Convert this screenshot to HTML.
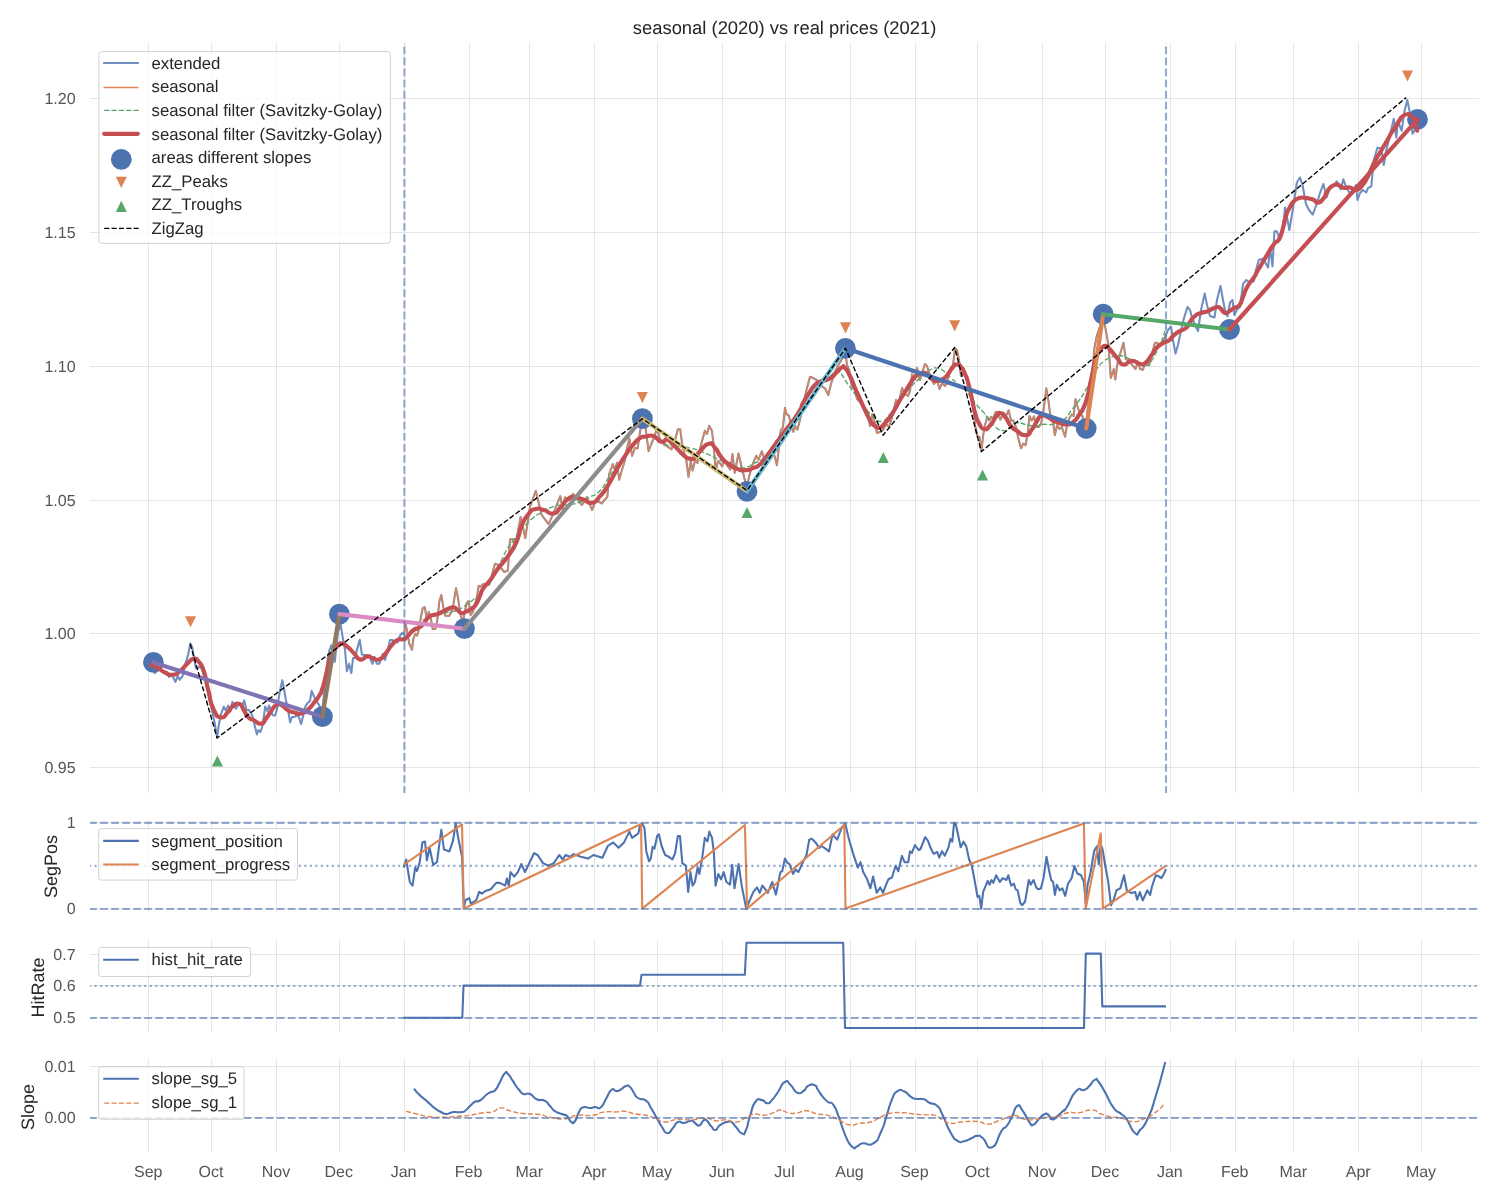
<!DOCTYPE html><html><head><meta charset="utf-8"><style>html,body{margin:0;padding:0;background:#fff;}svg{display:block;will-change:transform;}text{font-family:"Liberation Sans",sans-serif;text-rendering:geometricPrecision;}</style></head><body>
<svg width="1500" height="1200" viewBox="0 0 1500 1200">
<rect width="1500" height="1200" fill="#fff"/>
<defs>
<clipPath id="c_main"><rect x="90" y="43" width="1389" height="750"/></clipPath>
<clipPath id="c_seg"><rect x="90" y="820" width="1389" height="92"/></clipPath>
<clipPath id="c_hit"><rect x="90" y="940" width="1389" height="91"/></clipPath>
<clipPath id="c_slope"><rect x="90" y="1059" width="1389" height="92"/></clipPath>
</defs>
<line x1="148.5" y1="43" x2="148.5" y2="793" stroke="#e5e5e5" stroke-width="1"/>
<line x1="211.5" y1="43" x2="211.5" y2="793" stroke="#e5e5e5" stroke-width="1"/>
<line x1="276.5" y1="43" x2="276.5" y2="793" stroke="#e5e5e5" stroke-width="1"/>
<line x1="339.5" y1="43" x2="339.5" y2="793" stroke="#e5e5e5" stroke-width="1"/>
<line x1="404.5" y1="43" x2="404.5" y2="793" stroke="#e5e5e5" stroke-width="1"/>
<line x1="469.5" y1="43" x2="469.5" y2="793" stroke="#e5e5e5" stroke-width="1"/>
<line x1="529.5" y1="43" x2="529.5" y2="793" stroke="#e5e5e5" stroke-width="1"/>
<line x1="594.5" y1="43" x2="594.5" y2="793" stroke="#e5e5e5" stroke-width="1"/>
<line x1="657.5" y1="43" x2="657.5" y2="793" stroke="#e5e5e5" stroke-width="1"/>
<line x1="722.5" y1="43" x2="722.5" y2="793" stroke="#e5e5e5" stroke-width="1"/>
<line x1="785.5" y1="43" x2="785.5" y2="793" stroke="#e5e5e5" stroke-width="1"/>
<line x1="850.5" y1="43" x2="850.5" y2="793" stroke="#e5e5e5" stroke-width="1"/>
<line x1="915.5" y1="43" x2="915.5" y2="793" stroke="#e5e5e5" stroke-width="1"/>
<line x1="977.5" y1="43" x2="977.5" y2="793" stroke="#e5e5e5" stroke-width="1"/>
<line x1="1042.5" y1="43" x2="1042.5" y2="793" stroke="#e5e5e5" stroke-width="1"/>
<line x1="1105.5" y1="43" x2="1105.5" y2="793" stroke="#e5e5e5" stroke-width="1"/>
<line x1="1170.5" y1="43" x2="1170.5" y2="793" stroke="#e5e5e5" stroke-width="1"/>
<line x1="1235.5" y1="43" x2="1235.5" y2="793" stroke="#e5e5e5" stroke-width="1"/>
<line x1="1293.5" y1="43" x2="1293.5" y2="793" stroke="#e5e5e5" stroke-width="1"/>
<line x1="1358.5" y1="43" x2="1358.5" y2="793" stroke="#e5e5e5" stroke-width="1"/>
<line x1="1421.5" y1="43" x2="1421.5" y2="793" stroke="#e5e5e5" stroke-width="1"/>
<line x1="148.5" y1="820" x2="148.5" y2="912" stroke="#e5e5e5" stroke-width="1"/>
<line x1="211.5" y1="820" x2="211.5" y2="912" stroke="#e5e5e5" stroke-width="1"/>
<line x1="276.5" y1="820" x2="276.5" y2="912" stroke="#e5e5e5" stroke-width="1"/>
<line x1="339.5" y1="820" x2="339.5" y2="912" stroke="#e5e5e5" stroke-width="1"/>
<line x1="404.5" y1="820" x2="404.5" y2="912" stroke="#e5e5e5" stroke-width="1"/>
<line x1="469.5" y1="820" x2="469.5" y2="912" stroke="#e5e5e5" stroke-width="1"/>
<line x1="529.5" y1="820" x2="529.5" y2="912" stroke="#e5e5e5" stroke-width="1"/>
<line x1="594.5" y1="820" x2="594.5" y2="912" stroke="#e5e5e5" stroke-width="1"/>
<line x1="657.5" y1="820" x2="657.5" y2="912" stroke="#e5e5e5" stroke-width="1"/>
<line x1="722.5" y1="820" x2="722.5" y2="912" stroke="#e5e5e5" stroke-width="1"/>
<line x1="785.5" y1="820" x2="785.5" y2="912" stroke="#e5e5e5" stroke-width="1"/>
<line x1="850.5" y1="820" x2="850.5" y2="912" stroke="#e5e5e5" stroke-width="1"/>
<line x1="915.5" y1="820" x2="915.5" y2="912" stroke="#e5e5e5" stroke-width="1"/>
<line x1="977.5" y1="820" x2="977.5" y2="912" stroke="#e5e5e5" stroke-width="1"/>
<line x1="1042.5" y1="820" x2="1042.5" y2="912" stroke="#e5e5e5" stroke-width="1"/>
<line x1="1105.5" y1="820" x2="1105.5" y2="912" stroke="#e5e5e5" stroke-width="1"/>
<line x1="1170.5" y1="820" x2="1170.5" y2="912" stroke="#e5e5e5" stroke-width="1"/>
<line x1="1235.5" y1="820" x2="1235.5" y2="912" stroke="#e5e5e5" stroke-width="1"/>
<line x1="1293.5" y1="820" x2="1293.5" y2="912" stroke="#e5e5e5" stroke-width="1"/>
<line x1="1358.5" y1="820" x2="1358.5" y2="912" stroke="#e5e5e5" stroke-width="1"/>
<line x1="1421.5" y1="820" x2="1421.5" y2="912" stroke="#e5e5e5" stroke-width="1"/>
<line x1="148.5" y1="940" x2="148.5" y2="1031" stroke="#e5e5e5" stroke-width="1"/>
<line x1="211.5" y1="940" x2="211.5" y2="1031" stroke="#e5e5e5" stroke-width="1"/>
<line x1="276.5" y1="940" x2="276.5" y2="1031" stroke="#e5e5e5" stroke-width="1"/>
<line x1="339.5" y1="940" x2="339.5" y2="1031" stroke="#e5e5e5" stroke-width="1"/>
<line x1="404.5" y1="940" x2="404.5" y2="1031" stroke="#e5e5e5" stroke-width="1"/>
<line x1="469.5" y1="940" x2="469.5" y2="1031" stroke="#e5e5e5" stroke-width="1"/>
<line x1="529.5" y1="940" x2="529.5" y2="1031" stroke="#e5e5e5" stroke-width="1"/>
<line x1="594.5" y1="940" x2="594.5" y2="1031" stroke="#e5e5e5" stroke-width="1"/>
<line x1="657.5" y1="940" x2="657.5" y2="1031" stroke="#e5e5e5" stroke-width="1"/>
<line x1="722.5" y1="940" x2="722.5" y2="1031" stroke="#e5e5e5" stroke-width="1"/>
<line x1="785.5" y1="940" x2="785.5" y2="1031" stroke="#e5e5e5" stroke-width="1"/>
<line x1="850.5" y1="940" x2="850.5" y2="1031" stroke="#e5e5e5" stroke-width="1"/>
<line x1="915.5" y1="940" x2="915.5" y2="1031" stroke="#e5e5e5" stroke-width="1"/>
<line x1="977.5" y1="940" x2="977.5" y2="1031" stroke="#e5e5e5" stroke-width="1"/>
<line x1="1042.5" y1="940" x2="1042.5" y2="1031" stroke="#e5e5e5" stroke-width="1"/>
<line x1="1105.5" y1="940" x2="1105.5" y2="1031" stroke="#e5e5e5" stroke-width="1"/>
<line x1="1170.5" y1="940" x2="1170.5" y2="1031" stroke="#e5e5e5" stroke-width="1"/>
<line x1="1235.5" y1="940" x2="1235.5" y2="1031" stroke="#e5e5e5" stroke-width="1"/>
<line x1="1293.5" y1="940" x2="1293.5" y2="1031" stroke="#e5e5e5" stroke-width="1"/>
<line x1="1358.5" y1="940" x2="1358.5" y2="1031" stroke="#e5e5e5" stroke-width="1"/>
<line x1="1421.5" y1="940" x2="1421.5" y2="1031" stroke="#e5e5e5" stroke-width="1"/>
<line x1="148.5" y1="1059" x2="148.5" y2="1151" stroke="#e5e5e5" stroke-width="1"/>
<line x1="211.5" y1="1059" x2="211.5" y2="1151" stroke="#e5e5e5" stroke-width="1"/>
<line x1="276.5" y1="1059" x2="276.5" y2="1151" stroke="#e5e5e5" stroke-width="1"/>
<line x1="339.5" y1="1059" x2="339.5" y2="1151" stroke="#e5e5e5" stroke-width="1"/>
<line x1="404.5" y1="1059" x2="404.5" y2="1151" stroke="#e5e5e5" stroke-width="1"/>
<line x1="469.5" y1="1059" x2="469.5" y2="1151" stroke="#e5e5e5" stroke-width="1"/>
<line x1="529.5" y1="1059" x2="529.5" y2="1151" stroke="#e5e5e5" stroke-width="1"/>
<line x1="594.5" y1="1059" x2="594.5" y2="1151" stroke="#e5e5e5" stroke-width="1"/>
<line x1="657.5" y1="1059" x2="657.5" y2="1151" stroke="#e5e5e5" stroke-width="1"/>
<line x1="722.5" y1="1059" x2="722.5" y2="1151" stroke="#e5e5e5" stroke-width="1"/>
<line x1="785.5" y1="1059" x2="785.5" y2="1151" stroke="#e5e5e5" stroke-width="1"/>
<line x1="850.5" y1="1059" x2="850.5" y2="1151" stroke="#e5e5e5" stroke-width="1"/>
<line x1="915.5" y1="1059" x2="915.5" y2="1151" stroke="#e5e5e5" stroke-width="1"/>
<line x1="977.5" y1="1059" x2="977.5" y2="1151" stroke="#e5e5e5" stroke-width="1"/>
<line x1="1042.5" y1="1059" x2="1042.5" y2="1151" stroke="#e5e5e5" stroke-width="1"/>
<line x1="1105.5" y1="1059" x2="1105.5" y2="1151" stroke="#e5e5e5" stroke-width="1"/>
<line x1="1170.5" y1="1059" x2="1170.5" y2="1151" stroke="#e5e5e5" stroke-width="1"/>
<line x1="1235.5" y1="1059" x2="1235.5" y2="1151" stroke="#e5e5e5" stroke-width="1"/>
<line x1="1293.5" y1="1059" x2="1293.5" y2="1151" stroke="#e5e5e5" stroke-width="1"/>
<line x1="1358.5" y1="1059" x2="1358.5" y2="1151" stroke="#e5e5e5" stroke-width="1"/>
<line x1="1421.5" y1="1059" x2="1421.5" y2="1151" stroke="#e5e5e5" stroke-width="1"/>
<line x1="90" y1="767.5" x2="1479" y2="767.5" stroke="#e5e5e5" stroke-width="1"/>
<line x1="90" y1="633.5" x2="1479" y2="633.5" stroke="#e5e5e5" stroke-width="1"/>
<line x1="90" y1="500.5" x2="1479" y2="500.5" stroke="#e5e5e5" stroke-width="1"/>
<line x1="90" y1="366.5" x2="1479" y2="366.5" stroke="#e5e5e5" stroke-width="1"/>
<line x1="90" y1="232.5" x2="1479" y2="232.5" stroke="#e5e5e5" stroke-width="1"/>
<line x1="90" y1="98.5" x2="1479" y2="98.5" stroke="#e5e5e5" stroke-width="1"/>
<line x1="90" y1="908.5" x2="1479" y2="908.5" stroke="#e5e5e5" stroke-width="1"/>
<line x1="90" y1="822.5" x2="1479" y2="822.5" stroke="#e5e5e5" stroke-width="1"/>
<line x1="90" y1="1017.5" x2="1479" y2="1017.5" stroke="#e5e5e5" stroke-width="1"/>
<line x1="90" y1="985.5" x2="1479" y2="985.5" stroke="#e5e5e5" stroke-width="1"/>
<line x1="90" y1="954.5" x2="1479" y2="954.5" stroke="#e5e5e5" stroke-width="1"/>
<line x1="90" y1="1117.5" x2="1479" y2="1117.5" stroke="#e5e5e5" stroke-width="1"/>
<line x1="90" y1="1066.5" x2="1479" y2="1066.5" stroke="#e5e5e5" stroke-width="1"/>
<g clip-path="url(#c_main)" fill="none" stroke-linejoin="round">
<polyline points="150.0,664.0 152.5,668.0 154.8,673.1 157.0,671.0 160.0,668.0 163.0,672.0 166.3,672.2 169.2,677.0 172.0,675.0 175.4,681.8 177.8,676.0 179.7,679.8 182.6,676.0 184.5,666.4 186.4,660.7 188.3,654.0 190.3,643.4 192.2,647.3 194.0,658.0 196.0,668.3 198.0,668.0 199.8,666.4 202.2,669.3 204.6,677.9 207.5,689.4 210.4,702.8 213.3,716.3 215.2,725.8 217.1,737.4 219.0,723.9 220.9,714.3 223.8,706.7 225.7,710.5 228.1,705.7 230.5,710.5 232.4,701.9 234.3,705.7 236.0,708.6 238.0,705.0 240.0,703.0 242.0,706.0 244.2,700.4 246.4,710.0 249.0,710.0 252.5,716.1 254.3,724.0 256.9,734.5 258.5,730.0 260.4,731.9 262.1,727.5 263.9,716.1 265.2,706.5 267.3,711.0 269.1,705.6 270.9,710.0 272.6,715.3 275.0,715.5 277.0,709.1 279.6,692.5 282.3,680.3 284.0,689.0 285.8,699.5 288.4,711.8 290.1,722.3 292.0,717.0 294.5,717.0 296.3,715.3 298.9,717.0 301.1,724.0 303.3,715.3 305.0,707.4 307.6,703.0 310.0,701.0 311.6,690.8 313.8,696.0 316.4,701.0 319.0,704.8 322.0,712.0 324.5,690.0 326.0,675.0 327.8,657.5 329.5,650.0 331.3,645.3 333.0,652.0 334.8,661.9 336.5,645.3 338.0,632.0 340.6,623.8 342.5,636.3 345.0,650.0 346.9,671.3 349.1,663.8 351.3,673.1 353.1,658.1 355.0,658.0 356.9,650.0 359.7,639.7 361.9,654.4 364.4,655.0 367.5,655.0 370.0,658.0 372.5,663.8 374.4,656.9 376.9,663.8 379.4,663.8 381.3,657.5 383.1,653.8 385.0,660.0 387.5,651.9 390.0,640.0 392.5,640.0 395.0,642.5 397.5,642.5 400.0,635.6 401.9,633.1 404.0,634.4" stroke="#4C72B0" stroke-opacity="0.8" stroke-width="2.08" stroke-linecap="square"/>
<polyline points="1165.7,335.5 1168.0,330.0 1171.0,326.5 1173.0,340.0 1175.5,353.5 1178.0,345.0 1180.0,335.5 1184.0,318.0 1187.5,307.0 1190.0,310.0 1192.0,317.5 1195.0,325.0 1198.0,331.0 1201.0,310.0 1204.7,293.5 1207.0,305.0 1210.0,316.0 1214.5,317.5 1217.0,300.0 1220.5,286.0 1223.0,300.0 1225.0,310.0 1227.5,316.3 1230.0,302.5 1232.5,300.0 1234.4,315.0 1237.5,308.8 1240.0,307.0 1243.1,283.8 1246.3,280.0 1250.0,282.5 1253.8,281.3 1256.0,270.0 1258.8,260.0 1262.5,258.8 1265.0,262.0 1268.1,267.5 1270.0,247.5 1272.5,266.3 1274.4,231.3 1276.9,231.3 1280.0,240.0 1283.8,220.0 1285.0,207.5 1287.5,220.0 1289.4,230.0 1292.5,211.3 1296.9,182.5 1300.0,177.5 1302.5,185.0 1306.0,204.0 1309.0,210.0 1312.7,214.7 1316.7,204.0 1320.0,193.0 1323.3,184.0 1326.7,197.3 1329.0,190.0 1331.3,186.7 1334.0,185.0 1336.7,181.3 1340.7,189.3 1343.3,179.3 1346.0,186.7 1349.0,192.0 1352.5,193.8 1356.0,185.0 1357.5,200.0 1360.0,193.0 1363.0,190.0 1366.3,192.5 1368.0,188.0 1371.3,186.3 1373.8,160.0 1377.5,147.5 1381.3,148.8 1383.8,165.0 1386.3,150.0 1390.0,135.0 1393.8,118.8 1396.3,137.5 1398.0,121.7 1401.7,130.7 1404.3,111.7 1407.3,100.0 1409.7,111.7 1410.7,123.3 1412.7,133.7 1414.3,131.0 1417.5,119.5" stroke="#4C72B0" stroke-opacity="0.8" stroke-width="2.08" stroke-linecap="square"/>
<polyline points="404.0,633.0 405.7,624.3 407.3,632.3 409.3,643.7 412.0,649.7 413.3,639.0 415.3,633.7 417.0,635.7 418.7,630.3 420.7,618.3 422.7,608.3 424.7,607.0 426.7,618.3 428.7,611.7 430.7,617.7 432.7,629.0 435.3,629.0 437.3,620.3 439.3,601.7 441.3,595.0 443.3,607.0 445.3,615.7 449.3,615.7 451.3,611.7 453.3,605.0 456.0,588.3 458.0,597.7 460.0,612.3 462.7,623.0 464.7,612.3 466.7,603.0 468.7,601.0 470.7,615.0 472.7,612.3 474.7,606.3 477.3,595.0 478.7,585.7 480.0,587.0 483.3,584.0 489.2,584.8 495.0,563.8 498.5,565.0 504.3,572.0 507.8,570.8 510.1,539.3 513.6,539.3 514.8,548.6 520.6,517.1 525.3,538.1 530.0,506.6 535.8,490.9 541.6,514.8 548.6,524.1 553.3,513.6 560.3,496.2 562.6,509.0 565.0,497.3 569.0,500.0 573.1,493.8 577.0,499.0 582.0,505.0 587.0,497.0 592.0,510.0 596.0,500.0 601.8,503.5 604.5,500.0 607.3,497.1 609.2,474.2 612.8,464.1 614.8,470.0 617.0,462.7 619.2,479.7 621.9,470.0 624.7,461.3 626.6,450.3 629.3,438.4 632.1,455.8 634.8,448.0 637.6,448.5 640.3,430.2 642.2,423.7 644.9,422.8 648.6,451.2 651.3,444.0 654.1,437.5 656.8,428.3 659.6,438.4 664.2,444.8 667.8,446.7 671.5,449.4 674.2,443.0 677.9,429.2 680.2,429.2 682.5,446.7 686.2,459.5 688.5,476.9 690.7,461.3 692.6,470.5 695.3,459.5 697.5,463.0 700.0,449.1 702.2,440.4 704.9,430.7 707.0,433.9 709.2,425.8 711.9,430.7 713.5,443.7 715.7,470.8 717.9,461.0 720.0,463.2 722.2,466.4 724.4,459.9 727.1,465.3 730.3,469.7 732.5,454.0 734.7,472.9 738.5,453.4 741.2,465.3 743.9,476.2 746.6,487.0 749.8,474.0 753.1,463.2 756.3,455.6 758.5,459.9 761.8,451.3 763.9,457.8 767.2,462.1 771.5,448.0 774.8,456.7 776.9,465.3 779.1,445.8 780.7,430.7 782.9,427.4 785.0,407.9 786.7,414.4 788.8,415.5 791.0,424.2 793.2,431.8 795.3,426.3 797.5,429.6 800.0,419.8 803.3,403.3 807.0,388.0 810.0,376.7 813.0,378.0 816.7,380.0 820.0,385.0 825.0,388.3 828.3,395.0 831.0,384.0 835.0,371.7 839.0,364.0 843.3,356.7 845.0,350.0 847.0,365.0 849.0,370.0 852.0,387.0 854.5,389.0 857.0,399.0 860.0,402.0 865.0,410.0 868.0,417.0 870.0,426.0 872.5,414.0 875.0,423.0 877.0,433.0 880.0,432.0 883.0,430.0 886.0,424.0 889.0,427.0 893.0,414.0 896.0,400.0 899.0,402.0 902.0,388.0 905.0,394.0 908.0,396.0 910.0,391.0 912.0,374.0 915.0,379.0 917.0,368.0 920.0,380.0 923.0,370.0 925.0,364.0 927.0,366.0 929.0,373.0 931.0,378.0 934.0,384.0 937.0,380.0 939.5,389.0 942.0,383.0 945.0,386.0 947.0,383.0 950.0,370.0 953.0,365.0 955.0,349.0 957.0,350.0 959.0,360.0 961.0,376.0 964.0,373.0 967.0,378.0 969.0,388.0 972.0,400.0 974.0,412.0 975.0,425.2 977.3,436.0 979.5,437.0 981.5,449.8 983.4,433.6 985.0,425.2 987.3,416.8 989.2,420.6 991.1,416.8 993.0,419.0 995.7,411.8 998.0,412.2 1000.3,419.8 1002.0,416.0 1005.0,418.0 1008.7,410.3 1011.0,420.6 1013.3,420.6 1016.4,428.3 1017.9,436.7 1021.0,448.2 1023.3,443.6 1025.6,445.2 1027.9,432.1 1029.4,416.0 1031.7,420.6 1034.0,416.4 1036.4,426.7 1038.6,427.1 1041.0,424.0 1043.2,412.9 1046.3,388.4 1048.6,402.2 1050.2,414.5 1052.5,417.5 1054.8,435.2 1057.1,425.2 1059.4,429.0 1061.7,427.0 1065.1,436.7 1067.0,425.2 1069.3,418.3 1071.6,414.5 1073.5,416.0 1075.5,399.1 1077.8,407.6 1080.1,413.7 1082.4,416.0 1084.7,428.3 1086.2,428.3 1087.7,408.3 1090.0,395.0 1094.5,347.5 1097.0,335.0 1100.5,325.0 1103.5,316.0 1104.8,324.8 1108.5,345.0 1110.8,378.0 1113.8,369.0 1115.3,379.5 1117.5,363.0 1120.5,352.5 1123.5,342.8 1125.8,359.3 1128.5,360.0 1131.8,364.5 1135.5,369.0 1137.8,361.5 1140.0,369.0 1143.0,369.8 1145.3,362.3 1147.2,361.0 1149.0,365.3 1151.3,356.0 1155.0,342.8 1157.3,342.8 1159.5,346.5 1162.0,344.0 1165.7,335.5" stroke="#4C72B0" stroke-opacity="0.8" stroke-width="2.08"/>
<polyline points="404.0,633.0 405.7,624.3 407.3,632.3 409.3,643.7 412.0,649.7 413.3,639.0 415.3,633.7 417.0,635.7 418.7,630.3 420.7,618.3 422.7,608.3 424.7,607.0 426.7,618.3 428.7,611.7 430.7,617.7 432.7,629.0 435.3,629.0 437.3,620.3 439.3,601.7 441.3,595.0 443.3,607.0 445.3,615.7 449.3,615.7 451.3,611.7 453.3,605.0 456.0,588.3 458.0,597.7 460.0,612.3 462.7,623.0 464.7,612.3 466.7,603.0 468.7,601.0 470.7,615.0 472.7,612.3 474.7,606.3 477.3,595.0 478.7,585.7 480.0,587.0 483.3,584.0 489.2,584.8 495.0,563.8 498.5,565.0 504.3,572.0 507.8,570.8 510.1,539.3 513.6,539.3 514.8,548.6 520.6,517.1 525.3,538.1 530.0,506.6 535.8,490.9 541.6,514.8 548.6,524.1 553.3,513.6 560.3,496.2 562.6,509.0 565.0,497.3 569.0,500.0 573.1,493.8 577.0,499.0 582.0,505.0 587.0,497.0 592.0,510.0 596.0,500.0 601.8,503.5 604.5,500.0 607.3,497.1 609.2,474.2 612.8,464.1 614.8,470.0 617.0,462.7 619.2,479.7 621.9,470.0 624.7,461.3 626.6,450.3 629.3,438.4 632.1,455.8 634.8,448.0 637.6,448.5 640.3,430.2 642.2,423.7 644.9,422.8 648.6,451.2 651.3,444.0 654.1,437.5 656.8,428.3 659.6,438.4 664.2,444.8 667.8,446.7 671.5,449.4 674.2,443.0 677.9,429.2 680.2,429.2 682.5,446.7 686.2,459.5 688.5,476.9 690.7,461.3 692.6,470.5 695.3,459.5 697.5,463.0 700.0,449.1 702.2,440.4 704.9,430.7 707.0,433.9 709.2,425.8 711.9,430.7 713.5,443.7 715.7,470.8 717.9,461.0 720.0,463.2 722.2,466.4 724.4,459.9 727.1,465.3 730.3,469.7 732.5,454.0 734.7,472.9 738.5,453.4 741.2,465.3 743.9,476.2 746.6,487.0 749.8,474.0 753.1,463.2 756.3,455.6 758.5,459.9 761.8,451.3 763.9,457.8 767.2,462.1 771.5,448.0 774.8,456.7 776.9,465.3 779.1,445.8 780.7,430.7 782.9,427.4 785.0,407.9 786.7,414.4 788.8,415.5 791.0,424.2 793.2,431.8 795.3,426.3 797.5,429.6 800.0,419.8 803.3,403.3 807.0,388.0 810.0,376.7 813.0,378.0 816.7,380.0 820.0,385.0 825.0,388.3 828.3,395.0 831.0,384.0 835.0,371.7 839.0,364.0 843.3,356.7 845.0,350.0 847.0,365.0 849.0,370.0 852.0,387.0 854.5,389.0 857.0,399.0 860.0,402.0 865.0,410.0 868.0,417.0 870.0,426.0 872.5,414.0 875.0,423.0 877.0,433.0 880.0,432.0 883.0,430.0 886.0,424.0 889.0,427.0 893.0,414.0 896.0,400.0 899.0,402.0 902.0,388.0 905.0,394.0 908.0,396.0 910.0,391.0 912.0,374.0 915.0,379.0 917.0,368.0 920.0,380.0 923.0,370.0 925.0,364.0 927.0,366.0 929.0,373.0 931.0,378.0 934.0,384.0 937.0,380.0 939.5,389.0 942.0,383.0 945.0,386.0 947.0,383.0 950.0,370.0 953.0,365.0 955.0,349.0 957.0,350.0 959.0,360.0 961.0,376.0 964.0,373.0 967.0,378.0 969.0,388.0 972.0,400.0 974.0,412.0 975.0,425.2 977.3,436.0 979.5,437.0 981.5,449.8 983.4,433.6 985.0,425.2 987.3,416.8 989.2,420.6 991.1,416.8 993.0,419.0 995.7,411.8 998.0,412.2 1000.3,419.8 1002.0,416.0 1005.0,418.0 1008.7,410.3 1011.0,420.6 1013.3,420.6 1016.4,428.3 1017.9,436.7 1021.0,448.2 1023.3,443.6 1025.6,445.2 1027.9,432.1 1029.4,416.0 1031.7,420.6 1034.0,416.4 1036.4,426.7 1038.6,427.1 1041.0,424.0 1043.2,412.9 1046.3,388.4 1048.6,402.2 1050.2,414.5 1052.5,417.5 1054.8,435.2 1057.1,425.2 1059.4,429.0 1061.7,427.0 1065.1,436.7 1067.0,425.2 1069.3,418.3 1071.6,414.5 1073.5,416.0 1075.5,399.1 1077.8,407.6 1080.1,413.7 1082.4,416.0 1084.7,428.3 1086.2,428.3 1087.7,408.3 1090.0,395.0 1094.5,347.5 1097.0,335.0 1100.5,325.0 1103.5,316.0 1104.8,324.8 1108.5,345.0 1110.8,378.0 1113.8,369.0 1115.3,379.5 1117.5,363.0 1120.5,352.5 1123.5,342.8 1125.8,359.3 1128.5,360.0 1131.8,364.5 1135.5,369.0 1137.8,361.5 1140.0,369.0 1143.0,369.8 1145.3,362.3 1147.2,361.0 1149.0,365.3 1151.3,356.0 1155.0,342.8 1157.3,342.8 1159.5,346.5 1162.0,344.0 1165.7,335.5" stroke="#DD8452" stroke-width="1.39"/>
<path d="M404.0,642.7 C406.0,639.8 405.3,640.2 410.0,634.0 C414.7,627.8 413.0,629.0 418.0,624.0 C423.0,619.0 420.3,621.7 425.0,619.0 C429.7,616.3 425.9,617.9 432.0,616.0 C438.1,614.1 436.2,614.9 443.3,613.3 C450.4,611.7 447.7,612.7 453.3,611.3 C458.9,609.9 455.5,611.3 460.0,609.0 C464.5,606.7 462.3,607.4 466.7,604.3 C471.1,601.2 469.5,602.4 473.3,599.7 C477.1,597.0 474.8,599.5 478.0,596.3 C481.2,593.1 479.0,595.4 483.0,590.0 C487.0,584.6 484.1,589.5 490.0,580.0 C495.9,570.5 495.5,571.2 500.8,561.5 C506.1,551.8 502.1,557.6 506.0,551.0 C509.9,544.4 508.5,547.3 512.5,541.6 C516.5,535.9 513.7,539.4 518.0,534.0 C522.3,528.6 520.3,530.6 525.3,525.3 C530.3,520.0 527.6,522.3 533.0,518.0 C538.4,513.7 534.8,516.3 541.6,512.5 C548.4,508.7 546.5,509.1 553.3,506.6 C560.1,504.1 556.8,505.6 562.0,505.0 C567.2,504.4 563.0,505.7 569.0,504.7 C575.0,503.7 573.0,504.6 580.0,502.0 C587.0,499.4 583.3,500.8 590.0,497.0 C596.7,493.2 593.6,497.4 600.0,490.7 C606.4,484.0 603.2,485.5 609.2,476.9 C615.2,468.3 611.7,473.3 618.0,465.0 C624.3,456.7 621.2,460.3 628.0,452.0 C634.8,443.7 632.5,445.2 638.5,440.2 C644.5,435.2 641.2,438.1 646.0,437.0 C650.8,435.9 648.5,436.2 653.0,437.0 C657.5,437.8 655.0,436.7 659.6,439.3 C664.2,441.9 662.6,442.7 666.9,444.8 C671.2,446.9 668.0,445.1 672.4,445.7 C676.8,446.3 673.6,445.6 680.0,446.5 C686.4,447.4 685.0,447.0 691.7,448.5 C698.4,450.0 693.6,448.6 700.0,451.0 C706.4,453.4 704.3,452.6 710.8,455.6 C717.3,458.6 713.0,457.0 719.5,459.9 C726.0,462.8 723.4,461.8 730.3,464.3 C737.2,466.8 734.5,466.6 740.1,467.5 C745.7,468.4 742.3,468.4 747.0,467.0 C751.7,465.6 748.9,465.9 754.2,463.2 C759.5,460.5 756.9,464.2 762.8,458.8 C768.7,453.4 766.3,454.9 772.0,447.0 C777.7,439.1 774.4,442.6 780.0,435.0 C785.6,427.4 782.1,432.5 788.8,424.2 C795.5,415.9 792.9,420.4 800.0,410.0 C807.1,399.6 803.3,402.0 810.0,393.0 C816.7,384.0 814.0,388.0 820.0,383.0 C826.0,378.0 822.4,381.8 828.0,378.0 C833.6,374.2 832.0,372.7 836.7,371.7 C841.4,370.7 839.2,372.2 842.0,375.0 C844.8,377.8 840.7,373.7 845.0,380.0 C849.3,386.3 848.3,384.7 855.0,394.0 C861.7,403.3 858.3,400.0 865.0,408.0 C871.7,416.0 869.3,413.7 875.0,418.0 C880.7,422.3 877.0,422.3 882.0,421.0 C887.0,419.7 884.0,420.7 890.0,414.0 C896.0,407.3 893.3,409.7 900.0,401.0 C906.7,392.3 903.3,395.7 910.0,388.0 C916.7,380.3 913.3,384.0 920.0,378.0 C926.7,372.0 924.0,373.2 930.0,370.0 C936.0,366.8 933.0,367.8 938.0,368.5 C943.0,369.2 940.7,368.8 945.0,372.0 C949.3,375.2 947.0,374.3 951.0,378.0 C955.0,381.7 952.3,379.0 957.0,383.0 C961.7,387.0 959.7,384.3 965.0,390.0 C970.3,395.7 969.7,395.7 973.0,400.0 C976.3,404.3 971.8,399.2 975.0,403.0 C978.2,406.8 978.6,406.6 982.7,411.4 C986.8,416.2 983.5,412.6 987.3,417.5 C991.1,422.4 988.6,421.6 994.2,426.0 C999.8,430.4 998.7,430.4 1004.1,430.6 C1009.5,430.8 1006.2,429.3 1010.3,426.7 C1014.4,424.1 1010.3,423.4 1016.4,422.9 C1022.5,422.4 1022.0,424.2 1028.7,425.2 C1035.4,426.2 1031.8,426.3 1036.4,426.0 C1041.0,425.7 1037.4,424.9 1042.5,424.4 C1047.6,423.9 1046.2,425.0 1051.7,424.4 C1057.2,423.8 1054.4,424.5 1059.0,422.5 C1063.6,420.5 1061.3,422.5 1065.5,418.3 C1069.7,414.1 1067.5,415.3 1071.6,409.9 C1075.7,404.5 1072.9,409.1 1077.8,402.2 C1082.7,395.3 1081.8,396.9 1086.2,389.2 C1090.6,381.5 1087.3,386.0 1091.0,379.0 C1094.7,372.0 1093.3,374.0 1097.3,368.3 C1101.3,362.6 1098.8,365.5 1103.0,362.0 C1107.2,358.5 1104.7,360.0 1110.0,357.8 C1115.3,355.6 1113.7,355.6 1119.0,355.5 C1124.3,355.4 1121.5,356.0 1126.0,357.5 C1130.5,359.0 1127.8,357.9 1132.5,360.0 C1137.2,362.1 1135.0,362.0 1140.0,363.8 C1145.0,365.6 1143.5,366.6 1147.5,365.3 C1151.5,364.0 1148.5,365.5 1152.0,360.0 C1155.5,354.5 1154.5,355.8 1158.0,348.8 C1161.5,341.8 1160.0,346.0 1162.5,339.0 C1165.0,332.0 1164.5,331.5 1165.5,327.8" stroke="#55A868" stroke-width="1.39" stroke-dasharray="5.14 2.22"/>
<circle cx="153.4" cy="662.4" r="10.4" fill="#4C72B0" stroke="none"/>
<circle cx="322.4" cy="716.7" r="10.4" fill="#4C72B0" stroke="none"/>
<circle cx="339.4" cy="614.1" r="10.4" fill="#4C72B0" stroke="none"/>
<circle cx="464.4" cy="628.7" r="10.4" fill="#4C72B0" stroke="none"/>
<circle cx="642.4" cy="418.7" r="10.4" fill="#4C72B0" stroke="none"/>
<circle cx="747.0" cy="491.3" r="10.4" fill="#4C72B0" stroke="none"/>
<circle cx="845.4" cy="348.3" r="10.4" fill="#4C72B0" stroke="none"/>
<circle cx="1086.2" cy="428.5" r="10.4" fill="#4C72B0" stroke="none"/>
<circle cx="1103.2" cy="314.2" r="10.4" fill="#4C72B0" stroke="none"/>
<circle cx="1229.5" cy="329.5" r="10.4" fill="#4C72B0" stroke="none"/>
<circle cx="1417.5" cy="119.4" r="10.4" fill="#4C72B0" stroke="none"/>
<path d="M151.4,665.2 C153.6,666.1 153.5,665.6 158.0,668.0 C162.5,670.4 160.1,670.3 165.0,672.5 C169.9,674.7 167.8,675.2 172.8,674.7 C177.8,674.2 175.3,674.6 180.0,671.0 C184.7,667.4 182.5,668.0 187.0,664.0 C191.5,660.0 189.4,659.6 193.4,658.9 C197.4,658.2 195.5,657.6 199.0,662.0 C202.5,666.4 200.8,662.2 204.0,672.0 C207.2,681.8 205.4,679.1 208.5,691.3 C211.6,703.5 209.2,700.0 213.3,708.6 C217.4,717.2 216.0,716.1 220.9,717.2 C225.8,718.3 224.0,715.7 228.0,712.0 C232.0,708.3 229.2,708.7 233.0,706.0 C236.8,703.3 235.8,702.6 239.4,703.9 C243.0,705.2 240.9,705.6 243.8,710.0 C246.7,714.4 244.6,713.5 248.1,717.0 C251.6,720.5 249.9,718.3 254.3,720.5 C258.7,722.7 257.2,724.5 261.3,723.6 C265.4,722.7 263.0,722.4 266.5,717.9 C270.0,713.4 268.3,714.4 271.8,710.0 C275.3,705.6 273.5,706.3 277.0,704.8 C280.5,703.3 278.8,703.9 282.3,705.6 C285.8,707.3 283.4,707.7 287.5,710.0 C291.6,712.3 289.8,711.4 294.5,712.6 C299.2,713.8 296.8,714.7 301.5,713.5 C306.2,712.3 304.4,712.6 308.5,709.1 C312.6,705.6 310.3,707.4 313.8,703.0 C317.3,698.6 316.1,701.0 319.0,696.0 C321.9,691.0 320.2,695.1 322.5,688.1 C324.8,681.1 323.7,684.3 326.0,675.0 C328.3,665.7 326.9,668.3 329.5,660.1 C332.1,651.9 331.0,655.4 333.9,650.5 C336.8,645.6 335.7,647.6 338.3,645.3 C340.9,643.0 338.7,643.0 341.8,643.5 C344.9,644.0 343.5,643.7 347.5,646.9 C351.5,650.1 349.6,648.9 353.8,653.1 C358.0,657.3 355.4,658.3 360.0,659.4 C364.6,660.5 363.3,656.7 367.5,656.3 C371.7,655.9 368.7,657.1 372.5,658.1 C376.3,659.1 374.6,660.6 378.8,659.4 C383.0,658.2 380.8,659.0 385.0,654.4 C389.2,649.8 387.1,650.4 391.3,645.6 C395.5,640.8 393.3,642.2 397.5,640.0 C401.7,637.8 400.3,640.7 404.0,639.0 C407.7,637.3 405.6,637.9 408.7,635.0 C411.8,632.1 410.0,632.7 413.3,630.3 C416.6,627.9 415.4,629.7 418.7,627.7 C422.0,625.7 420.2,627.6 423.3,624.3 C426.4,621.0 424.7,620.8 428.0,617.7 C431.3,614.6 430.2,616.1 433.3,615.0 C436.4,613.9 434.2,615.4 437.3,614.3 C440.4,613.2 439.1,613.5 442.7,611.7 C446.3,609.9 444.5,610.5 448.0,609.0 C451.5,607.5 450.2,607.1 453.3,607.3 C456.4,607.5 454.6,607.8 457.3,609.7 C460.0,611.6 458.2,612.5 461.3,613.0 C464.4,613.5 463.1,612.9 466.7,611.3 C470.3,609.7 468.9,610.6 472.0,608.3 C475.1,606.0 473.3,608.5 476.0,604.3 C478.7,600.1 477.6,601.0 480.0,595.7 C482.4,590.4 479.9,593.5 483.3,588.3 C486.7,583.1 485.6,586.3 490.3,580.1 C495.0,573.9 491.9,577.0 497.3,569.6 C502.7,562.2 501.2,565.4 506.6,558.0 C512.0,550.6 509.7,554.5 513.6,547.5 C517.5,540.5 515.6,544.4 518.3,537.0 C521.0,529.6 518.3,533.1 521.8,525.3 C525.3,517.5 524.1,519.0 528.8,513.6 C533.5,508.2 530.7,510.2 535.8,509.0 C540.9,507.8 538.2,508.6 544.0,510.1 C549.8,511.6 547.9,514.4 553.3,513.6 C558.7,512.8 555.6,512.5 560.3,507.8 C565.0,503.1 562.6,503.1 567.3,499.6 C572.0,496.1 569.2,497.4 574.3,497.3 C579.4,497.2 576.8,497.5 582.7,499.3 C588.6,501.1 586.2,503.7 592.0,502.7 C597.8,501.7 594.3,502.7 600.0,496.2 C605.7,489.7 603.1,493.1 609.2,483.3 C615.3,473.5 612.8,476.3 618.3,466.8 C623.8,457.3 620.8,462.2 625.7,454.9 C630.6,447.6 628.1,450.4 633.0,444.8 C637.9,439.2 636.0,440.7 640.3,438.0 C644.6,435.3 641.8,437.4 645.8,436.6 C649.8,435.8 648.5,435.1 652.2,435.7 C655.9,436.3 654.0,436.4 656.8,438.4 C659.6,440.4 658.0,440.7 660.5,441.6 C663.0,442.5 662.1,442.0 664.2,441.2 C666.3,440.4 664.5,438.7 666.9,439.3 C669.3,439.9 667.8,439.6 671.5,443.0 C675.2,446.4 673.6,445.1 677.9,449.4 C682.2,453.7 680.3,452.7 684.3,455.8 C688.3,458.9 686.4,458.0 689.8,458.6 C693.2,459.2 691.0,460.1 694.4,457.7 C697.8,455.3 695.2,456.0 700.0,451.3 C704.8,446.6 703.6,444.8 708.7,443.7 C713.8,442.6 710.9,443.3 715.2,448.0 C719.5,452.7 717.0,452.4 721.7,457.8 C726.4,463.2 723.9,460.5 729.3,464.3 C734.7,468.1 732.5,467.1 737.9,469.1 C743.3,471.1 740.4,470.6 745.5,470.2 C750.6,469.8 748.4,469.8 753.1,468.0 C757.8,466.2 754.9,468.9 759.6,464.8 C764.3,460.7 761.8,462.6 767.2,455.6 C772.6,448.6 770.0,451.6 775.8,443.7 C781.6,435.8 779.1,439.0 784.5,431.8 C789.9,424.6 786.9,429.2 792.1,422.0 C797.3,414.8 796.4,416.4 800.0,410.1 C803.6,403.8 799.7,409.1 803.0,403.0 C806.3,396.9 806.0,397.7 810.0,391.7 C814.0,385.7 811.7,388.3 815.0,385.0 C818.3,381.7 815.0,383.9 820.0,381.7 C825.0,379.5 824.7,381.2 830.0,378.3 C835.3,375.4 832.1,376.6 836.0,373.0 C839.9,369.4 838.7,369.2 841.7,367.5 C844.7,365.8 842.2,365.2 845.0,368.0 C847.8,370.8 846.7,369.3 850.0,376.0 C853.3,382.7 851.7,380.3 855.0,388.0 C858.3,395.7 856.7,391.7 860.0,399.0 C863.3,406.3 861.7,403.0 865.0,410.0 C868.3,417.0 866.7,414.7 870.0,420.0 C873.3,425.3 871.7,423.5 875.0,426.0 C878.3,428.5 876.7,428.5 880.0,427.5 C883.3,426.5 881.7,426.5 885.0,423.0 C888.3,419.5 886.7,421.7 890.0,417.0 C893.3,412.3 891.7,414.7 895.0,409.0 C898.3,403.3 896.7,405.7 900.0,400.0 C903.3,394.3 901.7,397.3 905.0,392.0 C908.3,386.7 906.7,389.0 910.0,384.0 C913.3,379.0 911.3,380.7 915.0,377.0 C918.7,373.3 917.0,374.0 921.0,373.0 C925.0,372.0 923.3,372.0 927.0,374.0 C930.7,376.0 928.7,376.7 932.0,379.0 C935.3,381.3 933.3,381.0 937.0,381.0 C940.7,381.0 939.3,381.3 943.0,379.0 C946.7,376.7 944.7,378.0 948.0,374.0 C951.3,370.0 950.0,370.2 953.0,367.0 C956.0,363.8 954.3,364.5 957.0,364.5 C959.7,364.5 958.3,363.8 961.0,367.0 C963.7,370.2 962.3,367.7 965.0,374.0 C967.7,380.3 966.3,376.0 969.0,386.0 C971.7,396.0 971.0,395.0 973.0,404.0 C975.0,413.0 973.1,406.6 975.0,412.9 C976.9,419.2 975.7,417.5 978.8,422.9 C981.9,428.3 980.4,428.2 984.2,429.0 C988.0,429.8 986.2,429.5 990.3,425.2 C994.4,420.9 992.9,420.0 996.5,416.0 C1000.1,412.0 998.0,412.8 1001.1,413.3 C1004.2,413.8 1002.6,413.5 1005.7,417.5 C1008.8,421.5 1006.7,420.8 1010.3,425.2 C1013.9,429.6 1011.3,427.3 1016.4,430.6 C1021.5,433.9 1020.5,435.5 1025.6,435.2 C1030.7,434.9 1028.1,434.2 1031.7,429.8 C1035.3,425.4 1033.3,426.7 1036.4,422.1 C1039.5,417.5 1037.4,417.8 1041.0,416.0 C1044.6,414.2 1043.0,415.3 1047.1,416.8 C1051.2,418.3 1049.1,418.6 1053.2,420.6 C1057.3,422.6 1054.8,421.6 1059.4,422.9 C1064.0,424.2 1062.4,424.7 1067.0,424.4 C1071.6,424.1 1069.1,425.4 1073.2,422.1 C1077.3,418.8 1075.7,419.6 1079.3,414.5 C1082.9,409.4 1081.1,413.2 1083.9,406.8 C1086.7,400.4 1085.7,402.6 1087.7,395.3 C1089.7,388.0 1088.2,393.1 1090.0,385.0 C1091.8,376.9 1091.0,380.0 1093.0,371.0 C1095.0,362.0 1093.7,365.0 1096.0,358.0 C1098.3,351.0 1098.3,353.1 1100.0,350.0 C1101.7,346.9 1099.2,350.2 1101.0,348.8 C1102.8,347.4 1102.5,345.6 1105.5,345.8 C1108.5,346.0 1106.0,345.3 1110.0,349.5 C1114.0,353.7 1113.0,353.5 1117.5,358.5 C1122.0,363.5 1118.7,363.7 1123.5,364.5 C1128.3,365.3 1126.3,361.0 1131.8,360.8 C1137.3,360.6 1135.5,363.1 1140.0,363.8 C1144.5,364.5 1141.5,365.8 1145.3,363.0 C1149.1,360.2 1147.6,360.5 1151.3,355.5 C1155.0,350.5 1152.8,352.0 1156.5,348.0 C1160.2,344.0 1158.0,346.2 1162.5,343.5 C1167.0,340.8 1166.8,342.0 1170.0,339.8 C1173.2,337.6 1169.2,339.7 1172.0,337.0 C1174.8,334.3 1173.8,334.7 1178.5,331.7 C1183.2,328.7 1182.2,331.2 1186.0,328.0 C1189.8,324.8 1187.0,326.0 1190.0,322.0 C1193.0,318.0 1191.3,319.0 1195.0,316.0 C1198.7,313.0 1197.0,314.5 1201.0,313.0 C1205.0,311.5 1203.3,312.8 1207.0,311.5 C1210.7,310.2 1208.5,310.5 1212.0,309.0 C1215.5,307.5 1214.5,307.0 1217.5,307.0 C1220.5,307.0 1218.5,307.0 1221.0,309.0 C1223.5,311.0 1222.0,312.4 1225.0,313.0 C1228.0,313.6 1227.0,312.4 1230.0,310.7 C1233.0,309.0 1230.9,309.8 1234.0,308.0 C1237.1,306.2 1236.3,309.0 1239.3,305.3 C1242.3,301.6 1240.3,303.2 1243.0,297.0 C1245.7,290.8 1243.6,293.3 1247.3,286.7 C1251.0,280.1 1250.4,282.9 1254.0,277.3 C1257.6,271.7 1254.9,275.3 1258.0,270.0 C1261.1,264.7 1260.3,266.3 1263.3,261.3 C1266.3,256.3 1264.3,259.4 1267.0,255.0 C1269.7,250.6 1268.6,252.0 1271.3,248.0 C1274.0,244.0 1272.3,246.1 1275.0,243.0 C1277.7,239.9 1276.6,243.7 1279.3,238.7 C1282.0,233.7 1280.8,235.6 1283.0,228.0 C1285.2,220.4 1283.7,223.0 1286.0,216.0 C1288.3,209.0 1287.3,211.9 1290.0,207.0 C1292.7,202.1 1290.9,204.3 1294.0,201.3 C1297.1,198.3 1295.6,199.1 1299.3,198.0 C1303.0,196.9 1301.4,197.8 1305.0,198.0 C1308.6,198.2 1307.0,198.0 1310.0,198.7 C1313.0,199.4 1311.3,198.7 1314.0,200.0 C1316.7,201.3 1314.9,203.1 1318.0,202.7 C1321.1,202.3 1320.3,202.3 1323.3,198.7 C1326.3,195.1 1324.3,196.0 1327.0,192.0 C1329.7,188.0 1328.1,189.1 1331.3,186.7 C1334.5,184.3 1333.6,184.8 1336.7,184.7 C1339.8,184.6 1338.0,185.4 1340.7,186.5 C1343.4,187.6 1341.6,187.7 1344.7,188.0 C1347.8,188.3 1346.1,186.8 1350.0,187.5 C1353.9,188.2 1352.1,190.8 1356.3,190.0 C1360.5,189.2 1358.9,189.0 1362.5,185.0 C1366.1,181.0 1364.1,183.4 1367.0,178.0 C1369.9,172.6 1368.6,174.5 1371.3,168.8 C1374.0,163.1 1372.1,166.4 1375.0,161.0 C1377.9,155.6 1377.1,157.5 1380.0,152.5 C1382.9,147.5 1381.3,150.2 1383.8,146.0 C1386.3,141.8 1385.1,144.2 1387.5,140.0 C1389.9,135.8 1388.5,137.7 1391.0,133.5 C1393.5,129.3 1392.3,131.7 1395.0,127.5 C1397.7,123.3 1396.5,124.7 1399.0,121.0 C1401.5,117.3 1399.7,118.5 1402.5,116.3 C1405.3,114.1 1404.8,114.7 1407.3,114.3 C1409.8,113.9 1408.2,113.9 1410.0,115.0 C1411.8,116.1 1410.8,115.4 1412.7,117.7 C1414.6,120.0 1414.2,117.7 1415.7,122.0 C1417.2,126.3 1416.7,127.8 1417.2,130.7" stroke="#C44E52" stroke-width="4.17" stroke-linecap="round"/>
<line x1="153.4" y1="662.4" x2="322.4" y2="716.7" stroke="#8172B3" stroke-width="4.17" stroke-linecap="round"/>
<line x1="322.4" y1="716.7" x2="339.4" y2="614.1" stroke="#937860" stroke-width="4.17" stroke-linecap="round"/>
<line x1="339.4" y1="614.1" x2="464.4" y2="628.7" stroke="#DA8BC3" stroke-width="4.17" stroke-linecap="round"/>
<line x1="464.4" y1="628.7" x2="642.4" y2="418.7" stroke="#8C8C8C" stroke-width="4.17" stroke-linecap="round"/>
<line x1="642.4" y1="418.7" x2="747.0" y2="491.3" stroke="#CCB974" stroke-width="4.17" stroke-linecap="round"/>
<line x1="747.0" y1="491.3" x2="845.4" y2="348.3" stroke="#64B5CD" stroke-width="4.17" stroke-linecap="round"/>
<line x1="845.4" y1="348.3" x2="1086.2" y2="428.5" stroke="#4C72B0" stroke-width="4.17" stroke-linecap="round"/>
<line x1="1086.2" y1="428.5" x2="1103.2" y2="314.2" stroke="#DD8452" stroke-width="4.17" stroke-linecap="round"/>
<line x1="1103.2" y1="314.2" x2="1229.5" y2="329.5" stroke="#55A868" stroke-width="4.17" stroke-linecap="round"/>
<line x1="1229.5" y1="329.5" x2="1417.5" y2="119.4" stroke="#C44E52" stroke-width="4.17" stroke-linecap="round"/>
<polyline points="190.2,643.9 217.1,738.0 642.4,418.7 747.0,490.5 845.5,348.3 883.0,435.3 954.7,347.5 981.3,451.7 1406.3,97.5" stroke="#000" stroke-width="1.39" stroke-dasharray="5.14 2.22"/>
<polygon points="184.9,616.2 196.1,616.2 190.5,627.2" fill="#DD8452" stroke="none"/>
<polygon points="636.9,391.9 647.9,391.9 642.4,403.1" fill="#DD8452" stroke="none"/>
<polygon points="840.0,322.2 851.0,322.2 845.5,333.4" fill="#DD8452" stroke="none"/>
<polygon points="949.2,320.2 960.2,320.2 954.7,331.4" fill="#DD8452" stroke="none"/>
<polygon points="1402.0,70.5 1413.0,70.5 1407.5,81.5" fill="#DD8452" stroke="none"/>
<polygon points="211.8,766.5 223.0,766.5 217.4,755.5" fill="#55A868" stroke="none"/>
<polygon points="741.5,518.0 752.5,518.0 747.0,506.9" fill="#55A868" stroke="none"/>
<polygon points="877.8,463.1 888.8,463.1 883.3,451.9" fill="#55A868" stroke="none"/>
<polygon points="977.0,480.6 988.0,480.6 982.5,469.4" fill="#55A868" stroke="none"/>
<line x1="404.4" y1="793" x2="404.4" y2="43" stroke="#4C72B0" stroke-opacity="0.6" stroke-width="2.08" stroke-dasharray="7.71 3.33" stroke-dashoffset="0.9"/>
<line x1="1166.0" y1="793" x2="1166.0" y2="43" stroke="#4C72B0" stroke-opacity="0.6" stroke-width="2.08" stroke-dasharray="7.71 3.33" stroke-dashoffset="0.9"/>
</g>
<g clip-path="url(#c_seg)" fill="none" stroke-linejoin="round">
<polyline points="403.5,867.6 406.2,859.5 409.8,882.0 412.5,885.6 415.2,867.6 417.0,871.0 419.7,862.2 422.4,842.4 425.0,841.5 426.9,860.4 429.6,847.8 433.2,864.9 437.0,862.0 441.3,829.8 444.0,849.6 449.4,851.4 453.0,840.6 455.7,823.5 458.4,838.8 462.0,856.8 463.8,908.6 465.6,900.0 469.2,898.2 471.0,903.6 476.4,900.0 479.1,891.9 481.8,893.7 485.4,891.0 490.8,889.2 496.2,882.9 499.8,882.9 505.2,885.6 507.0,878.4 508.8,885.6 510.6,872.1 514.2,876.6 517.8,872.1 521.4,864.0 525.0,872.1 534.0,853.2 537.6,855.0 543.0,863.1 548.4,865.8 553.8,863.1 559.2,855.0 562.8,859.5 565.5,855.0 570.0,856.8 573.6,854.1 580.8,856.8 588.0,858.6 593.4,855.0 602.4,857.7 607.8,846.0 613.2,842.4 618.6,847.8 624.0,842.4 629.4,831.6 632.1,837.9 638.4,833.4 640.2,824.4 642.0,823.5 644.5,828.0 646.3,851.4 649.0,861.3 650.8,858.6 652.6,846.9 654.4,848.7 657.1,836.1 658.9,834.3 661.6,846.0 665.2,855.0 668.8,856.8 672.4,859.5 675.1,853.2 677.8,836.1 680.0,836.1 682.3,863.1 685.9,865.8 688.2,891.9 690.4,872.1 692.6,885.6 694.9,882.0 697.6,867.6 699.4,873.9 702.1,858.6 704.8,837.9 707.5,841.5 709.3,831.6 712.0,837.9 713.8,851.4 715.6,885.6 718.3,873.9 721.0,879.3 723.7,872.1 726.4,882.0 730.0,884.7 732.2,864.9 734.5,888.3 738.6,864.0 741.7,885.6 746.2,908.6 749.8,900.0 753.4,891.9 757.0,887.4 759.7,892.8 762.4,885.6 766.0,890.1 767.8,892.8 772.3,882.0 775.9,894.6 780.4,872.1 782.2,871.2 784.9,858.6 787.6,863.1 789.4,864.0 793.0,873.9 795.7,869.4 798.4,872.1 802.0,864.0 806.5,855.0 809.2,839.7 811.9,838.8 815.5,842.4 819.1,847.8 821.8,846.0 825.4,848.7 829.0,851.4 832.6,834.3 837.1,839.7 841.6,828.0 845.2,823.5 848.8,838.8 853.3,854.1 857.8,867.6 860.5,862.2 863.2,872.1 866.8,878.4 870.4,888.3 873.1,876.6 876.7,892.8 880.3,887.4 883.0,892.8 885.7,885.6 888.4,879.3 892.0,877.5 895.6,865.8 898.3,871.2 901.9,855.9 904.6,862.2 908.2,862.2 910.0,851.4 911.9,853.0 914.9,845.0 918.7,850.1 920.5,849.0 925.2,837.1 928.0,840.8 930.8,848.3 933.6,853.9 937.3,852.0 939.2,857.6 942.0,851.2 944.8,855.7 948.5,847.3 950.4,838.9 952.3,841.7 954.1,823.1 956.0,825.0 960.7,847.3 963.5,841.7 966.3,846.4 969.1,859.5 971.9,866.0 974.7,880.9 977.5,896.8 979.3,895.9 981.2,908.6 983.1,892.1 987.7,880.9 989.6,884.7 991.5,880.0 993.3,882.8 996.1,875.3 999.9,881.9 1002.7,878.1 1006.4,880.0 1008.3,875.3 1011.1,885.6 1013.9,883.7 1015.7,889.3 1017.6,890.3 1020.4,903.3 1022.3,905.2 1025.1,901.5 1028.8,880.0 1030.7,884.7 1033.5,880.0 1036.3,887.5 1038.1,889.3 1040.9,888.4 1043.7,877.2 1046.5,856.7 1049.3,871.6 1051.2,880.0 1053.1,881.9 1054.9,894.9 1056.8,884.7 1059.6,890.3 1062.4,888.4 1065.2,895.9 1068.0,883.7 1071.7,878.1 1074.5,866.0 1077.3,873.5 1081.1,875.3 1083.9,881.9 1085.7,903.3 1087.6,884.7 1090.4,873.5 1094.1,851.1 1096.9,846.4 1098.8,864.1 1100.7,844.5 1102.5,849.2 1105.3,866.0 1108.1,880.9 1111.0,905.2 1113.7,899.6 1116.5,890.3 1120.3,888.4 1124.0,875.3 1126.8,890.3 1131.5,893.1 1135.2,892.1 1137.1,899.6 1139.9,892.1 1142.7,900.5 1147.3,890.3 1150.1,895.0 1152.0,886.5 1155.7,875.3 1158.5,876.2 1161.3,878.1 1164.1,873.5 1166.0,868.8" stroke="#4C72B0" stroke-width="2.08"/>
<polyline points="403.5,864.9 462.0,824.4 463.8,908.6 641.1,824.0 642.2,908.6 744.9,825.0 747.1,908.6 844.3,825.0 845.5,908.6 1083.9,823.4 1085.7,908.6 1100.7,833.3 1102.9,908.6 1166.0,865.6" stroke="#DD8452" stroke-width="2.08"/>
<line x1="90" y1="822.9" x2="1479" y2="822.9" stroke="#4C72B0" stroke-opacity="0.6" stroke-width="2.08" stroke-dasharray="7.71 3.33" stroke-dashoffset="0.9"/>
<line x1="90" y1="909.0" x2="1479" y2="909.0" stroke="#4C72B0" stroke-opacity="0.6" stroke-width="2.08" stroke-dasharray="7.71 3.33" stroke-dashoffset="0.9"/>
<line x1="90" y1="865.9" x2="1479" y2="865.9" stroke="#4C72B0" stroke-opacity="0.6" stroke-width="2.08" stroke-dasharray="2.08 3.44" stroke-dashoffset="1.0"/>
</g>
<g clip-path="url(#c_hit)" fill="none" stroke-linejoin="round">
<polyline points="403.3,1017.7 462.3,1017.7 463.5,985.6 640.0,985.6 641.5,974.8 744.8,974.8 746.5,942.8 843.2,942.8 845.0,1028.0 1084.0,1028.0 1085.8,953.6 1100.8,953.6 1102.3,1006.4 1166.0,1006.4" stroke="#4C72B0" stroke-width="2.08"/>
<line x1="90" y1="986.0" x2="1479" y2="986.0" stroke="#4C72B0" stroke-opacity="0.6" stroke-width="2.08" stroke-dasharray="2.08 3.44" stroke-dashoffset="1.0"/>
<line x1="90" y1="1018.0" x2="1479" y2="1018.0" stroke="#4C72B0" stroke-opacity="0.6" stroke-width="2.08" stroke-dasharray="7.71 3.33" stroke-dashoffset="0.9"/>
</g>
<g clip-path="url(#c_slope)" fill="none" stroke-linejoin="round">
<path d="M414.0,1088.7 C415.7,1090.6 415.4,1091.0 419.0,1094.5 C422.6,1098.0 421.0,1096.1 424.7,1099.3 C428.4,1102.5 426.5,1100.9 430.0,1104.0 C433.5,1107.1 431.6,1106.0 435.3,1108.7 C439.0,1111.4 437.4,1110.2 441.0,1112.0 C444.6,1113.8 443.0,1113.7 446.0,1114.0 C449.0,1114.3 447.3,1113.7 450.0,1113.0 C452.7,1112.3 450.0,1112.3 454.0,1112.0 C458.0,1111.7 458.0,1112.8 462.0,1112.1 C466.0,1111.4 463.3,1112.0 466.0,1110.0 C468.7,1108.0 466.9,1108.8 470.0,1106.0 C473.1,1103.2 472.0,1103.3 475.3,1101.5 C478.6,1099.7 476.0,1103.0 480.0,1100.5 C484.0,1098.0 483.6,1096.8 487.3,1094.0 C491.0,1091.2 488.3,1093.3 491.0,1092.0 C493.7,1090.7 492.3,1093.3 495.3,1090.0 C498.3,1086.7 496.9,1087.5 500.0,1082.0 C503.1,1076.5 502.0,1076.2 504.7,1073.5 C507.4,1070.8 505.3,1071.6 508.0,1074.0 C510.7,1076.4 510.0,1076.7 512.7,1080.7 C515.4,1084.7 513.8,1082.9 516.0,1086.0 C518.2,1089.1 516.9,1087.3 519.3,1090.0 C521.7,1092.7 519.7,1092.7 523.3,1094.0 C526.9,1095.3 525.5,1092.2 530.0,1094.0 C534.5,1095.8 531.8,1097.1 536.7,1099.3 C541.6,1101.5 540.3,1098.5 544.7,1100.7 C549.1,1102.9 546.5,1102.5 550.0,1106.0 C553.5,1109.5 550.9,1108.5 555.3,1111.3 C559.7,1114.1 559.4,1112.9 563.3,1114.5 C567.2,1116.1 564.3,1113.5 567.0,1116.0 C569.7,1118.5 568.6,1120.3 571.3,1122.0 C574.0,1123.7 572.4,1124.3 575.0,1121.0 C577.6,1117.7 576.2,1116.6 579.0,1112.0 C581.8,1107.4 579.6,1108.6 583.3,1107.3 C587.0,1106.0 586.1,1108.1 590.0,1108.0 C593.9,1107.9 591.4,1107.2 595.0,1107.0 C598.6,1106.8 597.0,1110.0 600.7,1107.3 C604.4,1104.6 602.5,1104.8 606.0,1099.0 C609.5,1093.2 608.0,1092.7 611.3,1090.0 C614.6,1087.3 613.1,1091.0 616.0,1091.0 C618.9,1091.0 616.7,1091.7 620.0,1090.0 C623.3,1088.3 622.7,1087.0 626.0,1086.0 C629.3,1085.0 627.3,1084.7 630.0,1087.0 C632.7,1089.3 631.3,1089.3 634.0,1093.0 C636.7,1096.7 634.0,1095.4 638.0,1098.0 C642.0,1100.6 641.7,1097.4 646.0,1100.7 C650.3,1104.0 647.4,1102.2 651.0,1108.0 C654.6,1113.8 653.0,1111.7 656.7,1118.0 C660.4,1124.3 658.5,1121.9 662.0,1127.0 C665.5,1132.1 663.6,1132.9 667.3,1133.2 C671.0,1133.5 669.4,1131.7 673.0,1128.0 C676.6,1124.3 674.3,1123.7 678.0,1122.0 C681.7,1120.3 679.6,1123.4 684.0,1123.0 C688.4,1122.6 687.6,1120.7 691.3,1120.7 C695.0,1120.7 692.3,1121.4 695.0,1123.0 C697.7,1124.6 696.6,1126.2 699.3,1125.5 C702.0,1124.8 700.8,1122.9 703.0,1121.0 C705.2,1119.1 703.3,1118.2 706.0,1119.9 C708.7,1121.6 707.9,1122.6 711.0,1126.0 C714.1,1129.4 712.6,1130.0 715.3,1130.0 C718.0,1130.0 716.3,1128.2 719.0,1126.0 C721.7,1123.8 720.6,1124.6 723.3,1123.3 C726.0,1122.0 724.3,1122.4 727.0,1122.0 C729.7,1121.6 728.3,1120.3 731.3,1122.0 C734.3,1123.7 732.4,1123.2 736.0,1127.0 C739.6,1130.8 738.7,1132.5 742.0,1133.5 C745.3,1134.5 743.3,1135.8 746.0,1130.0 C748.7,1124.2 746.9,1125.3 750.0,1116.0 C753.1,1106.7 751.3,1107.3 755.3,1102.0 C759.3,1096.7 758.0,1099.7 762.0,1100.1 C766.0,1100.5 764.0,1103.3 767.3,1103.3 C770.6,1103.3 768.4,1103.8 772.0,1100.0 C775.6,1096.2 773.8,1098.0 778.0,1092.0 C782.2,1086.0 780.5,1084.3 784.7,1082.0 C788.9,1079.7 786.4,1081.4 790.6,1085.0 C794.8,1088.6 792.8,1090.9 797.3,1092.7 C801.8,1094.5 800.4,1092.7 804.0,1090.5 C807.6,1088.3 804.4,1087.8 808.0,1086.0 C811.6,1084.2 811.4,1083.9 814.7,1085.2 C818.0,1086.5 815.3,1086.2 818.0,1090.0 C820.7,1093.8 819.4,1092.7 822.7,1096.7 C826.0,1100.7 824.5,1099.3 828.0,1102.0 C831.5,1104.7 829.7,1099.8 833.3,1104.7 C836.9,1109.6 834.7,1106.5 838.7,1116.7 C842.7,1126.9 840.9,1125.4 845.3,1135.3 C849.7,1145.2 848.1,1142.8 852.0,1146.5 C855.9,1150.2 853.4,1147.6 857.0,1146.5 C860.6,1145.4 857.3,1144.4 862.7,1143.3 C868.1,1142.2 867.1,1147.3 873.3,1143.3 C879.5,1139.3 876.8,1140.6 881.3,1131.3 C885.8,1122.0 883.1,1126.0 886.7,1115.3 C890.3,1104.6 888.5,1107.3 892.0,1099.3 C895.5,1091.3 893.3,1094.0 897.3,1091.3 C901.3,1088.6 899.5,1089.5 904.0,1091.3 C908.5,1093.1 906.7,1094.2 910.7,1096.7 C914.7,1099.2 911.6,1097.9 916.0,1098.8 C920.4,1099.7 919.6,1098.0 924.0,1099.3 C928.4,1100.6 924.9,1100.6 929.3,1102.8 C933.7,1105.0 932.8,1101.8 937.3,1106.0 C941.8,1110.2 938.2,1106.4 942.7,1115.3 C947.2,1124.2 945.8,1124.2 950.7,1132.7 C955.6,1141.2 952.9,1137.9 957.3,1140.7 C961.7,1143.5 959.1,1142.1 964.0,1141.2 C968.9,1140.3 967.6,1139.8 972.0,1138.0 C976.4,1136.2 973.7,1135.9 977.3,1135.9 C980.9,1135.9 977.8,1134.2 982.7,1138.0 C987.6,1141.8 985.8,1149.5 992.0,1147.3 C998.2,1145.1 996.4,1138.4 1001.3,1131.3 C1006.2,1124.2 1003.1,1130.9 1006.7,1126.0 C1010.3,1121.1 1008.5,1123.4 1012.0,1116.7 C1015.5,1110.0 1013.7,1108.0 1017.3,1106.0 C1020.9,1104.0 1018.7,1105.5 1022.7,1110.8 C1026.7,1116.1 1025.8,1117.4 1029.3,1122.0 C1032.8,1126.6 1030.2,1125.6 1033.3,1124.7 C1036.4,1123.8 1035.1,1122.7 1038.7,1119.3 C1042.3,1115.9 1040.9,1116.1 1044.0,1114.5 C1047.1,1112.9 1045.3,1112.9 1048.0,1114.5 C1050.7,1116.1 1048.9,1118.8 1052.0,1119.3 C1055.1,1119.8 1053.7,1118.8 1057.3,1116.1 C1060.9,1113.4 1059.6,1114.2 1062.7,1111.3 C1065.8,1108.4 1062.3,1114.0 1066.7,1107.3 C1071.1,1100.6 1070.2,1097.1 1076.0,1091.3 C1081.8,1085.5 1079.6,1091.8 1084.0,1090.0 C1088.4,1088.2 1085.7,1089.4 1089.3,1086.0 C1092.9,1082.6 1091.6,1081.2 1094.7,1079.9 C1097.8,1078.6 1095.2,1077.7 1098.7,1082.0 C1102.2,1086.3 1100.4,1084.3 1105.3,1092.7 C1110.2,1101.1 1108.0,1100.2 1113.3,1107.3 C1118.6,1114.4 1116.8,1110.0 1121.3,1114.0 C1125.8,1118.0 1122.2,1113.1 1126.7,1119.3 C1131.2,1125.5 1130.3,1129.1 1134.7,1132.7 C1139.1,1136.3 1135.6,1134.9 1140.0,1130.0 C1144.4,1125.1 1142.7,1129.6 1148.0,1118.0 C1153.3,1106.4 1150.2,1114.0 1156.0,1095.3 C1161.8,1076.6 1162.2,1073.1 1165.3,1062.0" stroke="#4C72B0" stroke-width="2.08"/>
<path d="M406.0,1111.3 C409.6,1112.2 408.7,1112.2 416.7,1114.0 C424.7,1115.8 421.1,1115.6 430.0,1116.7 C438.9,1117.8 433.6,1117.4 443.3,1117.2 C453.0,1117.0 450.1,1116.8 459.0,1116.2 C467.9,1115.6 461.9,1116.5 470.0,1115.3 C478.1,1114.1 475.7,1113.8 483.3,1112.7 C490.9,1111.6 486.9,1113.5 492.7,1111.9 C498.5,1110.3 494.9,1108.3 500.7,1107.9 C506.5,1107.5 502.5,1108.9 510.0,1110.8 C517.5,1112.7 513.5,1112.3 523.3,1113.5 C533.1,1114.7 530.4,1113.3 539.3,1114.5 C548.2,1115.7 541.1,1115.8 550.0,1117.2 C558.9,1118.6 557.1,1119.4 566.0,1118.8 C574.9,1118.2 567.8,1116.5 576.7,1115.3 C585.6,1114.1 583.8,1116.4 592.7,1115.3 C601.6,1114.2 595.3,1113.2 603.3,1112.1 C611.3,1111.0 609.6,1112.2 616.7,1111.9 C623.8,1111.6 618.5,1110.6 624.7,1111.3 C630.9,1112.0 628.2,1112.7 635.3,1114.0 C642.4,1115.3 638.9,1113.7 646.0,1115.3 C653.1,1116.9 650.5,1116.6 656.7,1118.8 C662.9,1121.0 657.6,1121.8 664.7,1122.0 C671.8,1122.2 669.1,1120.0 678.0,1119.3 C686.9,1118.6 682.4,1120.3 691.3,1119.9 C700.2,1119.5 696.7,1117.7 704.7,1118.0 C712.7,1118.3 708.2,1120.1 715.3,1120.7 C722.4,1121.3 718.9,1119.5 726.0,1119.9 C733.1,1120.3 729.6,1123.1 736.7,1122.0 C743.8,1120.9 741.1,1119.4 747.3,1116.7 C753.5,1114.0 750.0,1114.5 755.3,1114.0 C760.6,1113.5 757.1,1115.7 763.3,1115.3 C769.5,1114.9 768.4,1114.5 774.0,1112.7 C779.6,1110.9 775.3,1110.0 780.0,1110.0 C784.7,1110.0 782.7,1111.6 788.0,1112.7 C793.3,1113.8 789.8,1113.8 796.0,1113.2 C802.2,1112.6 799.6,1110.5 806.7,1110.8 C813.8,1111.1 810.2,1112.5 817.3,1114.0 C824.4,1115.5 820.9,1113.3 828.0,1115.3 C835.1,1117.3 831.6,1116.8 838.7,1119.9 C845.8,1123.0 842.2,1123.6 849.3,1124.7 C856.4,1125.8 852.9,1124.2 860.0,1123.3 C867.1,1122.4 863.6,1124.2 870.7,1122.0 C877.8,1119.8 875.1,1119.5 881.3,1116.7 C887.5,1113.9 882.2,1114.8 889.3,1113.5 C896.4,1112.2 894.7,1112.5 902.7,1112.7 C910.7,1112.9 906.2,1113.3 913.3,1114.0 C920.4,1114.7 916.9,1114.4 924.0,1114.8 C931.1,1115.2 928.5,1113.6 934.7,1115.3 C940.9,1117.0 937.4,1117.2 942.7,1119.9 C948.0,1122.6 944.5,1122.6 950.7,1123.3 C956.9,1124.0 952.4,1122.6 961.3,1122.0 C970.2,1121.4 968.4,1120.8 977.3,1121.5 C986.2,1122.2 980.9,1124.4 988.0,1124.1 C995.1,1123.8 991.6,1123.2 998.7,1120.7 C1005.8,1118.2 1004.0,1118.5 1009.3,1116.7 C1014.6,1114.9 1009.4,1114.4 1014.7,1115.3 C1020.0,1116.2 1018.2,1118.0 1025.3,1119.3 C1032.4,1120.6 1028.9,1120.0 1036.0,1119.3 C1043.1,1118.6 1039.6,1118.1 1046.7,1117.2 C1053.8,1116.3 1050.2,1118.2 1057.3,1116.7 C1064.4,1115.2 1060.9,1114.0 1068.0,1112.7 C1075.1,1111.4 1070.7,1113.6 1078.7,1112.7 C1086.7,1111.8 1084.9,1109.7 1092.0,1110.0 C1099.1,1110.3 1093.8,1111.3 1100.0,1113.5 C1106.2,1115.7 1103.6,1115.2 1110.7,1116.7 C1117.8,1118.2 1114.2,1116.4 1121.3,1118.0 C1128.4,1119.6 1124.9,1121.1 1132.0,1121.5 C1139.1,1121.9 1135.6,1121.8 1142.7,1119.3 C1149.8,1116.8 1145.8,1119.3 1153.3,1114.0 C1160.8,1108.7 1161.3,1106.9 1165.3,1103.3" stroke="#DD8452" stroke-width="1.39" stroke-dasharray="5.14 2.22"/>
<line x1="90" y1="1118" x2="1479" y2="1118" stroke="#4C72B0" stroke-opacity="0.6" stroke-width="2.08" stroke-dasharray="7.71 3.33" stroke-dashoffset="0.9"/>
</g>
<text x="75.6" y="772.9" font-size="16" fill="#555555" text-anchor="end">0.95</text>
<text x="75.6" y="638.9" font-size="16" fill="#555555" text-anchor="end">1.00</text>
<text x="75.6" y="505.9" font-size="16" fill="#555555" text-anchor="end">1.05</text>
<text x="75.6" y="371.9" font-size="16" fill="#555555" text-anchor="end">1.10</text>
<text x="75.6" y="237.9" font-size="16" fill="#555555" text-anchor="end">1.15</text>
<text x="75.6" y="103.9" font-size="16" fill="#555555" text-anchor="end">1.20</text>
<text x="75.6" y="913.9" font-size="16" fill="#555555" text-anchor="end">0</text>
<text x="75.6" y="827.9" font-size="16" fill="#555555" text-anchor="end">1</text>
<text x="75.6" y="1022.9" font-size="16" fill="#555555" text-anchor="end">0.5</text>
<text x="75.6" y="990.9" font-size="16" fill="#555555" text-anchor="end">0.6</text>
<text x="75.6" y="959.9" font-size="16" fill="#555555" text-anchor="end">0.7</text>
<text x="75.6" y="1122.9" font-size="16" fill="#555555" text-anchor="end">0.00</text>
<text x="75.6" y="1071.9" font-size="16" fill="#555555" text-anchor="end">0.01</text>
<text x="148.2" y="1176.6" font-size="16" fill="#555555" text-anchor="middle">Sep</text>
<text x="211.0" y="1176.6" font-size="16" fill="#555555" text-anchor="middle">Oct</text>
<text x="275.9" y="1176.6" font-size="16" fill="#555555" text-anchor="middle">Nov</text>
<text x="338.7" y="1176.6" font-size="16" fill="#555555" text-anchor="middle">Dec</text>
<text x="403.6" y="1176.6" font-size="16" fill="#555555" text-anchor="middle">Jan</text>
<text x="468.5" y="1176.6" font-size="16" fill="#555555" text-anchor="middle">Feb</text>
<text x="529.2" y="1176.6" font-size="16" fill="#555555" text-anchor="middle">Mar</text>
<text x="594.1" y="1176.6" font-size="16" fill="#555555" text-anchor="middle">Apr</text>
<text x="656.9" y="1176.6" font-size="16" fill="#555555" text-anchor="middle">May</text>
<text x="721.8" y="1176.6" font-size="16" fill="#555555" text-anchor="middle">Jun</text>
<text x="784.6" y="1176.6" font-size="16" fill="#555555" text-anchor="middle">Jul</text>
<text x="849.5" y="1176.6" font-size="16" fill="#555555" text-anchor="middle">Aug</text>
<text x="914.4" y="1176.6" font-size="16" fill="#555555" text-anchor="middle">Sep</text>
<text x="977.2" y="1176.6" font-size="16" fill="#555555" text-anchor="middle">Oct</text>
<text x="1042.1" y="1176.6" font-size="16" fill="#555555" text-anchor="middle">Nov</text>
<text x="1104.9" y="1176.6" font-size="16" fill="#555555" text-anchor="middle">Dec</text>
<text x="1169.8" y="1176.6" font-size="16" fill="#555555" text-anchor="middle">Jan</text>
<text x="1234.7" y="1176.6" font-size="16" fill="#555555" text-anchor="middle">Feb</text>
<text x="1293.3" y="1176.6" font-size="16" fill="#555555" text-anchor="middle">Mar</text>
<text x="1358.2" y="1176.6" font-size="16" fill="#555555" text-anchor="middle">Apr</text>
<text x="1421.0" y="1176.6" font-size="16" fill="#555555" text-anchor="middle">May</text>
<text transform="translate(57.2,866.5) rotate(-90)" font-size="18" fill="#262626" text-anchor="middle">SegPos</text>
<text transform="translate(44.2,987.5) rotate(-90)" font-size="18" fill="#262626" text-anchor="middle">HitRate</text>
<text transform="translate(33.7,1107.0) rotate(-90)" font-size="18" fill="#262626" text-anchor="middle">Slope</text>
<text x="784.6" y="33.7" font-size="18.4" fill="#262626" text-anchor="middle">seasonal (2020) vs real prices (2021)</text>
<rect x="98.9" y="51.6" width="291.5" height="191.7" rx="2.8" ry="2.8" fill="#fff" fill-opacity="0.8" stroke="#cccccc" stroke-opacity="0.9" stroke-width="1"/>
<text x="151.5" y="68.7" font-size="16.75" fill="#262626">extended</text>
<text x="151.5" y="92.3" font-size="16.75" fill="#262626">seasonal</text>
<text x="151.5" y="115.9" font-size="16.75" fill="#262626">seasonal filter (Savitzky-Golay)</text>
<text x="151.5" y="139.5" font-size="16.75" fill="#262626">seasonal filter (Savitzky-Golay)</text>
<text x="151.5" y="163.1" font-size="16.75" fill="#262626">areas different slopes</text>
<text x="151.5" y="186.7" font-size="16.75" fill="#262626">ZZ_Peaks</text>
<text x="151.5" y="210.3" font-size="16.75" fill="#262626">ZZ_Troughs</text>
<text x="151.5" y="233.9" font-size="16.75" fill="#262626">ZigZag</text>
<line x1="104.2" y1="63" x2="137.8" y2="63" stroke="#4C72B0" stroke-opacity="0.8" stroke-width="2.08" stroke-linecap="square"/>
<line x1="104.2" y1="87.5" x2="137.8" y2="87.5" stroke="#DD8452" stroke-width="1.39" stroke-linecap="square"/>
<line x1="104.2" y1="110.4" x2="138.9" y2="110.4" stroke="#55A868" stroke-width="1.39" stroke-dasharray="5.14 2.22"/>
<line x1="104.2" y1="133.8" x2="137.8" y2="133.8" stroke="#C44E52" stroke-width="4.17" stroke-linecap="round"/>
<circle cx="121.3" cy="159.4" r="10.4" fill="#4C72B0"/>
<polygon points="115.8,176.8 126.8,176.8 121.3,187.9" fill="#DD8452"/>
<polygon points="115.8,211.9 126.8,211.9 121.3,200.8" fill="#55A868"/>
<line x1="104.2" y1="228.4" x2="138.9" y2="228.4" stroke="#000" stroke-width="1.39" stroke-dasharray="5.14 2.22"/>
<rect x="98.7" y="828.6" width="198.8" height="51.5" rx="2.8" ry="2.8" fill="#fff" fill-opacity="0.8" stroke="#cccccc" stroke-opacity="0.9" stroke-width="1"/>
<text x="151.5" y="846.6" font-size="16.75" fill="#262626">segment_position</text>
<text x="151.5" y="870.2" font-size="16.75" fill="#262626">segment_progress</text>
<line x1="104.2" y1="840.9" x2="137.8" y2="840.9" stroke="#4C72B0" stroke-width="2.08" stroke-linecap="square"/>
<line x1="104.2" y1="864.5" x2="137.8" y2="864.5" stroke="#DD8452" stroke-width="2.08" stroke-linecap="square"/>
<rect x="98.7" y="947.4" width="151.9" height="29.1" rx="2.8" ry="2.8" fill="#fff" fill-opacity="0.8" stroke="#cccccc" stroke-opacity="0.9" stroke-width="1"/>
<text x="151.5" y="965.4" font-size="16.75" fill="#262626">hist_hit_rate</text>
<line x1="104.2" y1="959.7" x2="137.8" y2="959.7" stroke="#4C72B0" stroke-width="2.08" stroke-linecap="square"/>
<rect x="98.7" y="1066.7" width="145.4" height="52.6" rx="2.8" ry="2.8" fill="#fff" fill-opacity="0.8" stroke="#cccccc" stroke-opacity="0.9" stroke-width="1"/>
<text x="151.5" y="1084.4" font-size="16.75" fill="#262626">slope_sg_5</text>
<text x="151.5" y="1108.0" font-size="16.75" fill="#262626">slope_sg_1</text>
<line x1="104.2" y1="1078.7" x2="137.8" y2="1078.7" stroke="#4C72B0" stroke-width="2.08" stroke-linecap="square"/>
<line x1="104.2" y1="1103.1" x2="138.9" y2="1103.1" stroke="#DD8452" stroke-width="1.39" stroke-dasharray="5.14 2.22"/>
</svg></body></html>
